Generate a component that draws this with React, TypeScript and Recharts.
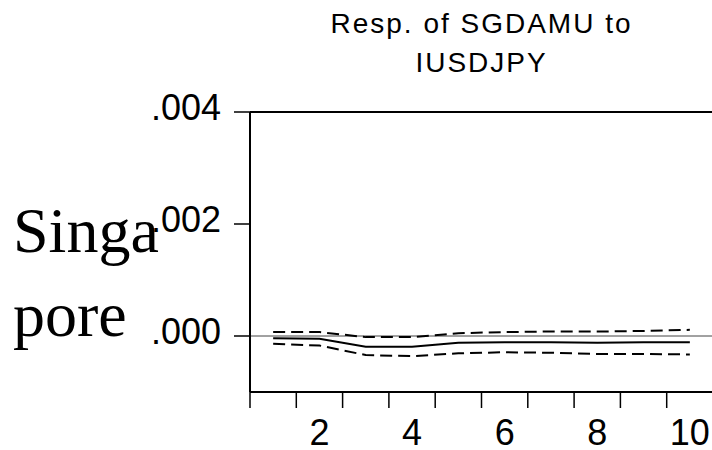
import React from 'react';
import { LineChart, Line, XAxis, YAxis, ReferenceLine } from 'recharts';

// horizons and impulse responses
const steps = [1, 2, 3, 4, 5, 6, 7, 8, 9, 10];
const response = [-0.00004, -0.00005, -0.00019, -0.00019, -0.00012, -0.00011, -0.00011, -0.00012, -0.00011, -0.00011];
const upperBand = [0.00007, 0.00007, -0.00002, -0.00002, 0.00005, 0.00007, 0.00008, 0.00008, 0.00009, 0.00011];
const lowerBand = [-0.00014, -0.00017, -0.00034, -0.00036, -0.00031, -0.00029, -0.0003, -0.00032, -0.00032, -0.00033];

const yTicks = [0, 0.002, 0.004];
const frameTicks = [0.5, 1.5, 2.5, 3.5, 4.5, 5.5, 6.5, 7.5, 8.5, 9.5, 10.5];
const labelTicks = [2, 4, 6, 8, 10];

const titleLines = ['Resp. of SGDAMU to', 'IUSDJPY'];
const sideLabel = ['Singa', 'pore'];

const rows = steps.map((s, i) => ({
  step: s,
  resp: response[i],
  up: upperBand[i],
  lo: lowerBand[i],
}));

const SANS = '"Liberation Sans", Arial, sans-serif';
const SERIF = '"Liberation Serif", "Times New Roman", serif';

// ".004" style, no leading zero
const fmtY = (v: number) => v.toFixed(3).replace(/^(-?)0/, '$1');

export default function App() {
  return (
    <div style={{ position: 'absolute', left: 0, top: 0, width: 712, height: 450, overflow: 'hidden', background: '#fff' }}>
      <LineChart width={720} height={450} data={rows} margin={{ top: 112, right: 7, left: 0, bottom: 0 }}>
        <XAxis
          xAxisId="frame"
          type="number"
          dataKey="step"
          domain={[0.5, 10.5]}
          ticks={frameTicks}
          tickFormatter={() => ''}
          tickSize={16}
          height={16}
          axisLine={{ stroke: '#000', strokeWidth: 2 }}
          tickLine={{ stroke: '#000', strokeWidth: 1.5 }}
          allowDataOverflow
        />
        <XAxis
          xAxisId="labels"
          type="number"
          dataKey="step"
          domain={[0.5, 10.5]}
          ticks={labelTicks}
          axisLine={false}
          tickLine={false}
          tickSize={0}
          tickMargin={11}
          height={42}
          tick={{ fontSize: 36, fill: '#000', fontFamily: SANS }}
          allowDataOverflow
        />
        <YAxis
          domain={[-0.001, 0.004]}
          ticks={yTicks}
          tickFormatter={fmtY}
          width={250}
          tickSize={16}
          tickMargin={13}
          axisLine={{ stroke: '#000', strokeWidth: 2 }}
          tickLine={{ stroke: '#000', strokeWidth: 1.5 }}
          tick={{ fontSize: 36, fill: '#000', fontFamily: SANS, dy: -5 }}
          allowDataOverflow
        />
        <ReferenceLine xAxisId="frame" y={0.004} stroke="#000" strokeWidth={2} />
        <ReferenceLine xAxisId="frame" y={0} stroke="#444" strokeWidth={1} />
        <Line xAxisId="frame" dataKey="up" stroke="#000" strokeWidth={2} strokeDasharray="12 6" dot={false} isAnimationActive={false} type="linear" />
        <Line xAxisId="frame" dataKey="resp" stroke="#000" strokeWidth={2} dot={false} isAnimationActive={false} type="linear" />
        <Line xAxisId="frame" dataKey="lo" stroke="#000" strokeWidth={2} strokeDasharray="12 6" dot={false} isAnimationActive={false} type="linear" />
      </LineChart>

      <div
        style={{
          position: 'absolute', left: 250, top: 4, width: 463, textAlign: 'center',
          fontFamily: SANS, fontSize: 28, lineHeight: '39px', letterSpacing: 2, color: '#000',
        }}
      >
        {titleLines.map((t) => (
          <div key={t}>{t}</div>
        ))}
      </div>

      <div
        style={{
          position: 'absolute', left: 13, top: 189, fontFamily: SERIF, fontSize: 64,
          lineHeight: '84px', color: '#000',
        }}
      >
        {sideLabel.map((t) => (
          <div key={t}>{t}</div>
        ))}
      </div>
    </div>
  );
}
